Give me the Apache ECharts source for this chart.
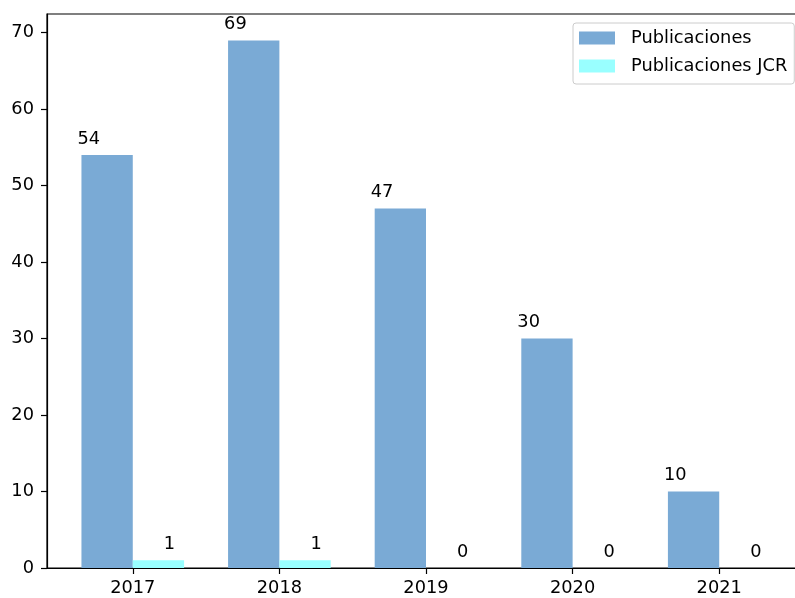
<!DOCTYPE html>
<html>
<head>
<meta charset="utf-8">
<script src="https://cdn.jsdelivr.net/npm/echarts@6/dist/echarts.min.js"></script>
<style>
html,body{margin:0;padding:0;background:#fff;}
#chart{width:795px;height:598px;}
</style>
</head>
<body>
<div id="chart"></div>
<script>
const years = ['2017', '2018', '2019', '2020', '2021'];
const publicaciones = [54, 69, 47, 30, 10];
const publicacionesJCR = [1, 1, 0, 0, 0];
const seriesNames = ['Publicaciones', 'Publicaciones JCR'];

const BAR_W = 0.35;
const X_MIN = -0.585, X_MAX = 4.585;
const Y_MAX = 72.45;
const FONT = 'DejaVu Sans';
const FS = 17.8;

function makeSeries(name, values, side, labelShift, color) {
  return {
    name: name,
    type: 'custom',
    itemStyle: { color: color },
    encode: { x: 0, y: 1 },
    data: values.map((v, i) => [i + side * BAR_W / 2, v]),
    renderItem: function (params, api) {
      const x = api.value(0), y = api.value(1);
      const p0 = api.coord([x - BAR_W / 2, 0]);
      const p1 = api.coord([x + BAR_W / 2, y]);
      const pl = api.coord([x + labelShift, y]);
      return {
        type: 'group',
        children: [
          { type: 'rect',
            shape: { x: p0[0], y: p1[1], width: p1[0] - p0[0], height: p0[1] - p1[1] },
            style: { fill: color } },
          { type: 'text',
            style: { text: String(y), x: pl[0], y: pl[1] - 7, align: 'center', verticalAlign: 'bottom',
                     fontSize: FS, fontFamily: FONT, fill: '#000' } }
        ]
      };
    }
  };
}

const chart = echarts.init(document.getElementById('chart'));
chart.setOption({
  animation: false,
  backgroundColor: '#fff',
  textStyle: { fontFamily: FONT },
  grid: { left: 47, top: 14, width: 758, height: 554, outerBoundsMode: 'none', containLabel: false,
          show: true, borderColor: '#000', borderWidth: 1.2, backgroundColor: 'transparent' },
  legend: {
    orient: 'vertical', left: 573, top: 23,
    data: seriesNames.map(n => ({ name: n, icon: 'rect' })),
    itemWidth: 36, itemHeight: 13, itemGap: 10,
    padding: [6, 7, 9, 6],
    borderColor: '#cccccc', borderWidth: 1, borderRadius: 3,
    backgroundColor: 'rgba(255,255,255,0.8)',
    textStyle: { fontSize: FS, fontFamily: FONT, color: '#000', lineHeight: 17, padding: [0, 0, 0, 11] }
  },
  xAxis: {
    type: 'value', min: X_MIN, max: X_MAX,
    axisLine: { show: true, onZero: false, lineStyle: { color: '#000', width: 1.2 } },
    axisTick: { show: true, length: 6, lineStyle: { color: '#000', width: 1.2 }, customValues: years.map((y, i) => i) },
    axisLabel: { customValues: years.map((y, i) => i), formatter: v => years[Math.round(v)], fontSize: FS, fontFamily: FONT, color: '#000', margin: 11 },
    splitLine: { show: false }
  },
  yAxis: {
    type: 'value', min: 0, max: Y_MAX, interval: 10,
    axisLine: { show: true, onZero: false, lineStyle: { color: '#000', width: 1.2 } },
    axisTick: { show: true, length: 6, lineStyle: { color: '#000', width: 1.2 } },
    axisLabel: { showMaxLabel: false, formatter: v => (v % 10 === 0 ? String(v) : ''), fontSize: FS, fontFamily: FONT, color: '#000', margin: 13 },
    splitLine: { show: false }
  },
  series: [
    makeSeries(seriesNames[0], publicaciones, -1, -0.125, '#7aaad5'),
    makeSeries(seriesNames[1], publicacionesJCR, 1, 0.075, '#99ffff')
  ]
});
</script>
</body>
</html>
